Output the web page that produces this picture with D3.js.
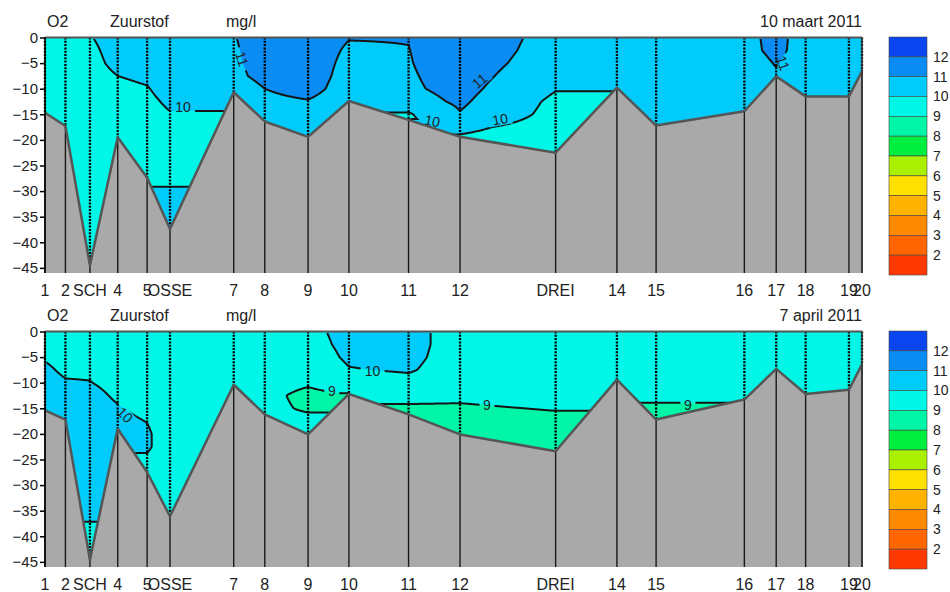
<!DOCTYPE html>
<html>
<head>
<meta charset="utf-8">
<script src="https://cdn.jsdelivr.net/npm/d3@7"></script>
<style>
  body { margin: 0; background: #fff; }
  svg { display: block; font-family: "Liberation Sans", Arial, sans-serif; }
</style>
</head>
<body>
<div class="canva"></div>
<script>
// stations along the river (km from station 1)
const stations = ["1", "2", "SCH", "4", "5", "OSSE", "7", "8", "9", "10", "11", "12", "DREI", "14", "15", "16", "17", "18", "19", "20"];
const stationKm = [0, 2.5, 5.5, 8.9, 12.5, 15.3, 23.1, 26.9, 32.2, 37.2, 44.5, 50.8, 62.5, 70.0, 74.8, 85.6, 89.5, 93.1, 98.4, 100];

// sample depths (m below surface)
const depthLevels = [0, 2.5, 5, 7.5, 10, 12.5, 15, 17.5, 20, 22.5, 25, 27.5, 30, 32.5, 35, 37.5, 40, 42.5, 45];

// bottom depth per station
const bottomMaart = [14.7, 17.3, 44.5, 19.5, 27.4, 37.4, 10.7, 16.4, 19.4, 12.4, 16.1, 19.4, 22.5, 9.8, 17.2, 14.4, 7.6, 11.5, 11.5, 6.6];
const bottomApril = [15.4, 17.2, 44.6, 19.0, 27.5, 36.1, 10.4, 16.2, 20.1, 12.2, 16.2, 20.1, 23.4, 9.4, 17.2, 13.3, 7.3, 12.2, 11.4, 6.4];

// O2 (mg/l) profiles, one per station, at depthLevels
const o2Maart = [
  [9.5, 9.5, 9.5, 9.5, 9.5, 9.5, 9.5],
  [9.5, 9.5, 9.5, 9.5, 9.5, 9.5, 9.5, 9.5],
  [9.95, 9.8, 9.7, 9.6, 9.5, 9.5, 9.5, 9.5, 9.5, 9.5, 9.5, 9.5, 9.5, 9.5, 9.5, 9.5, 9.5, 9.5, 9.5],
  [10.4, 10.35, 10.25, 10.0, 9.8, 9.7, 9.6, 9.6, 9.6],
  [10.5, 10.45, 10.35, 10.15, 9.95, 9.8, 9.7, 9.65, 9.6, 9.6, 9.6, 9.6],
  [10.5, 10.5, 10.5, 10.45, 10.35, 10.15, 9.95, 9.8, 9.75, 9.75, 9.8, 9.9, 10.05, 10.2, 10.3, 10.3],
  [10.96, 10.9, 10.84, 10.71, 10.3, 10.3],
  [11.4, 11.4, 11.4, 11.35, 11.0, 10.8, 10.6, 10.5],
  [11.4, 11.4, 11.4, 11.4, 11.3, 10.95, 10.8, 10.7, 10.6],
  [11.03, 10.9, 10.8, 10.7, 10.6, 10.5],
  [11.03, 10.98, 10.95, 10.9, 10.85, 10.6, 9.9, 9.8],
  [11.6, 11.6, 11.5, 11.4, 11.3, 11.15, 10.95, 10.2, 9.85],
  [10.7, 10.6, 10.5, 10.3, 10.05, 9.8, 9.7, 9.6, 9.6, 9.6],
  [10.4, 10.4, 10.4, 10.4, 10.4],
  [10.4, 10.4, 10.4, 10.4, 10.4, 10.4, 10.4, 10.4],
  [10.8, 10.75, 10.6, 10.5, 10.4, 10.4, 10.4],
  [11.2, 11.2, 11.05, 10.9],
  [10.7, 10.65, 10.5, 10.4, 10.4, 10.4],
  [10.4, 10.4, 10.4, 10.4, 10.4, 10.4],
  [10.4, 10.4, 10.4, 10.4]
];
const o2April = [
  [9.8, 9.85, 9.95, 10.1, 10.2, 10.3, 10.3],
  [9.7, 9.75, 9.8, 9.9, 10.05, 10.2, 10.3, 10.3],
  [9.7, 9.75, 9.8, 9.9, 10.02, 10.2, 10.3, 10.3, 10.3, 10.3, 10.3, 10.3, 10.3, 10.3, 10.3, 9.95, 9.8, 9.8, 9.8],
  [9.6, 9.65, 9.7, 9.75, 9.8, 9.9, 10.05, 10.2, 10.2],
  [9.6, 9.6, 9.6, 9.6, 9.65, 9.7, 9.8, 9.98, 10.1, 10.1, 9.9, 9.7],
  [9.6, 9.6, 9.6, 9.6, 9.6, 9.6, 9.6, 9.6, 9.6, 9.6, 9.6, 9.6, 9.6, 9.6, 9.6, 9.6],
  [9.6, 9.6, 9.6, 9.6, 9.6, 9.6],
  [9.6, 9.6, 9.55, 9.45, 9.3, 9.2, 9.2, 9.2],
  [9.75, 9.65, 9.5, 9.3, 9.1, 8.8, 8.9, 9.2, 9.3, 9.3],
  [10.3, 10.25, 10.15, 9.95, 9.4, 9.0],
  [10.3, 10.3, 10.25, 10.1, 9.7, 9.2, 8.9, 8.9],
  [9.6, 9.6, 9.55, 9.5, 9.4, 9.15, 8.9, 8.7, 8.7, 8.7],
  [9.6, 9.6, 9.55, 9.5, 9.4, 9.3, 9.05, 8.8, 8.7, 8.7, 8.7],
  [9.6, 9.6, 9.6, 9.6, 9.6],
  [9.7, 9.7, 9.65, 9.6, 9.5, 9.2, 8.85, 8.8],
  [9.6, 9.6, 9.6, 9.55, 9.5, 9.4, 9.4],
  [9.6, 9.6, 9.6, 9.6],
  [9.6, 9.6, 9.6, 9.6, 9.6, 9.6],
  [9.6, 9.6, 9.6, 9.6, 9.6, 9.6],
  [9.6, 9.6, 9.6, 9.6]
];

// colour classes
const thresholds = [2, 3, 4, 5, 6, 7, 8, 9, 10, 11, 12];
const bandColors = ["#ff3a00", "#ff6600", "#ff8a00", "#ffb200", "#ffe000", "#aaf000", "#00ee40", "#00f5a6", "#00f7e8", "#00cbfa", "#0a8cf2", "#0a46f0"];

// contour labels: [text, km, depth, angle]
const labelsMaart = [["10", 16.9, 13.6, 0], ["11", 24.1, 4.2, 72], ["10", 47.4, 16.3, 12], ["10", 55.7, 16.0, -10], ["11", 53.2, 8.5, -40], ["11", 90.3, 5.0, 70]];
const labelsApril = [["10", 9.8, 16.3, 45], ["10", 40.1, 7.8, 0], ["9", 35.1, 11.6, 0], ["9", 54.1, 14.4, 0], ["9", 78.7, 14.3, 0]];

const panels = [
  {date: "10 maart 2011", bottoms: bottomMaart, profiles: o2Maart, labels: labelsMaart, top: 37.5},
  {date: "7 april 2011", bottoms: bottomApril, profiles: o2April, labels: labelsApril, top: 331.5}
];

const width = 950, height = 592;
const x0 = 45, x1 = 862, plotH = 235.5;

const svg = d3.select(".canva").append("svg")
  .attr("width", width)
  .attr("height", height);
const defs = svg.append("defs");

const x = d3.scaleLinear().domain([0, 100]).range([x0, x1]);
const color = d3.scaleThreshold().domain(thresholds).range(bandColors);
const bisect = d3.bisector(d => d).right;

panels.forEach(function(p, pi) {
  const y = d3.scaleLinear().domain([0, -46]).range([p.top, p.top + plotH]);
  const y1 = p.top + plotH;
  const g = svg.append("g");

  // one linear scale per station profile
  const prof = p.profiles.map(v => d3.scaleLinear().domain(depthLevels.slice(0, v.length)).range(v).clamp(true));

  function valueAt(km, d) {
    let b = Math.max(1, Math.min(stationKm.length - 1, bisect(stationKm, km)));
    let a = b - 1;
    let t = (km - stationKm[a]) / (stationKm[b] - stationKm[a]);
    let ha = d <= p.bottoms[a], hb = d <= p.bottoms[b];
    let va = prof[a](d), vb = prof[b](d);
    if (ha && !hb) return va;
    if (hb && !ha) return vb;
    return va + (vb - va) * t;
  }

  // grid in pixel units
  const nx = Math.round(x1 - x0), ny = Math.round(plotH);
  const grid = new Float64Array(nx * ny);
  for (let j = 0; j < ny; j++) {
    const d = -y.invert(p.top + j + 0.5);
    for (let i = 0; i < nx; i++) {
      grid[j * nx + i] = valueAt(x.invert(x0 + i + 0.5), d);
    }
  }

  const clipId = "clip" + pi, clipIn = "clipin" + pi, maskId = "mask" + pi;
  defs.append("clipPath").attr("id", clipId).append("rect")
    .attr("x", x0).attr("y", p.top).attr("width", x1 - x0).attr("height", plotH);
  defs.append("clipPath").attr("id", clipIn).append("rect")
    .attr("x", x0 + 1.5).attr("y", p.top + 1.5).attr("width", x1 - x0 - 3).attr("height", plotH - 3);

  const contours = d3.contours().size([nx, ny]).thresholds([-1].concat(thresholds))(grid);
  const path = d3.geoPath();

  g.append("g")
    .attr("clip-path", `url(#${clipId})`)
    .append("g")
    .attr("transform", `translate(${x0},${p.top})`)
    .selectAll("path")
    .data(contours)
    .join("path")
    .attr("d", path)
    .attr("fill", d => color(d.value));

  // label gaps
  const mask = defs.append("mask").attr("id", maskId)
    .attr("maskUnits", "userSpaceOnUse")
    .attr("x", 0).attr("y", 0).attr("width", width).attr("height", height);
  mask.append("rect").attr("width", width).attr("height", height).attr("fill", "#fff");
  mask.selectAll("rect.gap")
    .data(p.labels)
    .join("rect")
    .attr("class", "gap")
    .attr("x", d => -d[0].length * 4.5 - 3)
    .attr("y", -6)
    .attr("width", d => d[0].length * 9 + 6)
    .attr("height", 12)
    .attr("fill", "#000")
    .attr("transform", d => `translate(${x(d[1])},${y(-d[2])}) rotate(${d[3]})`);

  g.append("g")
    .attr("clip-path", `url(#${clipIn})`)
    .append("g")
    .attr("mask", `url(#${maskId})`)
    .append("g")
    .attr("transform", `translate(${x0},${p.top})`)
    .selectAll("path")
    .data(contours.filter(c => c.value > 0))
    .join("path")
    .attr("d", path)
    .attr("fill", "none")
    .attr("stroke", "#151515")
    .attr("stroke-width", 2);

  g.append("g").selectAll("text")
    .data(p.labels)
    .join("text")
    .attr("transform", d => `translate(${x(d[1])},${y(-d[2])}) rotate(${d[3]})`)
    .attr("text-anchor", "middle")
    .attr("dy", "0.35em")
    .attr("font-size", 14)
    .attr("fill", "#222")
    .text(d => d[0]);

  // sea bed
  const bed = stationKm.map((k, i) => [x(k), y(-p.bottoms[i])]);
  g.append("path")
    .attr("d", d3.line()([[x0, y1]].concat(bed, [[x1, y1]])))
    .attr("fill", "#a9a9a9");

  // station lines: dotted in the water, solid below the bed
  const st = g.append("g");
  st.selectAll("line.water")
    .data(stationKm)
    .join("line")
    .attr("class", "water")
    .attr("x1", d => x(d)).attr("x2", d => x(d))
    .attr("y1", y(0))
    .attr("y2", (d, i) => y(-p.bottoms[i]))
    .attr("stroke", "#000")
    .attr("stroke-width", 2.3)
    .attr("stroke-dasharray", "2,1.3");
  st.selectAll("line.bed")
    .data(stationKm)
    .join("line")
    .attr("class", "bed")
    .attr("x1", d => x(d)).attr("x2", d => x(d))
    .attr("y1", (d, i) => y(-p.bottoms[i]))
    .attr("y2", y1)
    .attr("stroke", "#1a1a1a")
    .attr("stroke-width", 1.4);

  g.append("path")
    .attr("d", d3.line()(bed))
    .attr("fill", "none")
    .attr("stroke", "#555")
    .attr("stroke-width", 2.5)
    .attr("stroke-linejoin", "round");

  // frame
  g.append("line")
    .attr("x1", x0).attr("x2", x1).attr("y1", y(0)).attr("y2", y(0))
    .attr("stroke", "#555").attr("stroke-width", 2);
  g.append("line")
    .attr("x1", x1).attr("x2", x1).attr("y1", y(0)).attr("y2", y1)
    .attr("stroke", "#333").attr("stroke-width", 1.5);

  // y axis
  const yAxis = g.append("g")
    .attr("transform", `translate(${x0},0)`)
    .call(d3.axisLeft(y).tickValues(d3.range(0, -46, -5)).tickSize(5).tickPadding(2).tickSizeOuter(0));
  yAxis.select(".domain").attr("stroke", "#000").attr("stroke-width", 1.5)
    .attr("d", `M0,${y(0)}V${y1}`);
  yAxis.selectAll(".tick line").attr("stroke", "#000").attr("stroke-width", 1.5);
  yAxis.selectAll("text")
    .attr("font-size", 15)
    .attr("font-family", "Liberation Sans, Arial, sans-serif")
    .attr("fill", "#222");

  // station names
  g.append("g").selectAll("text")
    .data(stations)
    .join("text")
    .attr("x", (d, i) => x(stationKm[i]))
    .attr("y", y1 + 23)
    .attr("text-anchor", "middle")
    .attr("font-size", 16)
    .attr("fill", "#222")
    .text(d => d);

  // titles
  const ty = p.top - 11;
  const titles = [["O2", 47, "start"], ["Zuurstof", 110, "start"], ["mg/l", 226, "start"], [p.date, x1, "end"]];
  g.append("g").selectAll("text")
    .data(titles)
    .join("text")
    .attr("x", d => d[1])
    .attr("y", ty)
    .attr("text-anchor", d => d[2])
    .attr("font-size", 16)
    .attr("fill", "#222")
    .text(d => d[0]);

  // colour legend
  const lg = g.append("g");
  const ly = d3.scaleBand().domain(d3.range(bandColors.length)).range([p.top - 0.5, p.top + 237.5]);
  lg.selectAll("rect")
    .data(bandColors.slice().reverse())
    .join("rect")
    .attr("x", 889)
    .attr("y", (d, i) => ly(i))
    .attr("width", 38)
    .attr("height", ly.bandwidth())
    .attr("fill", d => d)
    .attr("stroke", "#444")
    .attr("stroke-width", 0.6);
  lg.selectAll("text")
    .data(thresholds.slice().reverse())
    .join("text")
    .attr("x", 933)
    .attr("y", (d, i) => ly(i + 1))
    .attr("dy", "0.35em")
    .attr("font-size", 14)
    .attr("fill", "#222")
    .text(d => d);
});
</script>
</body>
</html>
